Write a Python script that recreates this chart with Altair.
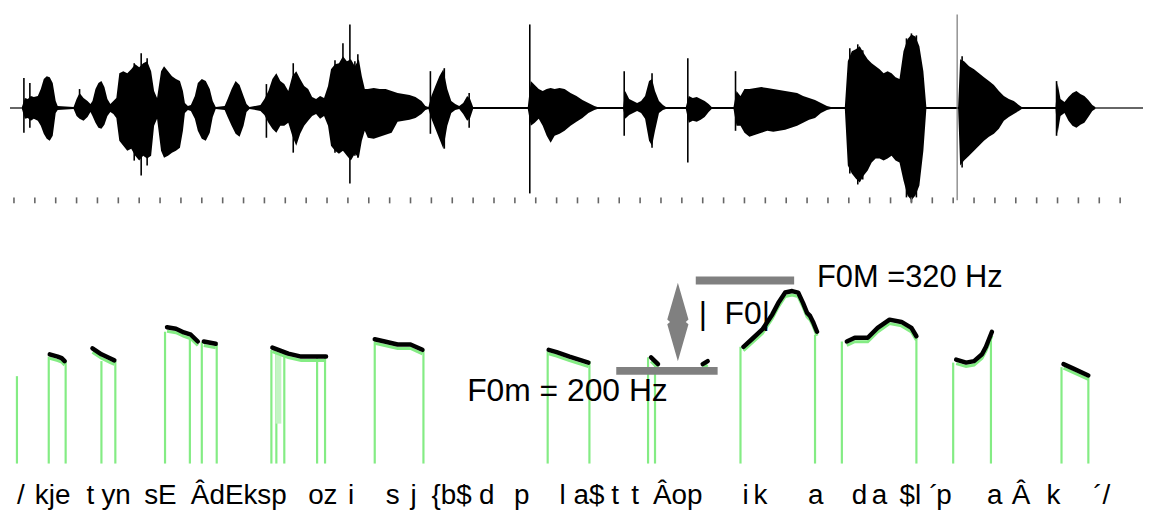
import altair as alt
import pandas as pd

# ---------------- data ----------------
# time axis in frames (1 frame ~ 1 px of the original figure), amplitude in relative units
wave_env = [
    (22, 1, -1), (25, 10, -11), (28, 9, -10), (31, 12, -13), (34, 11, -11), (38, 12, -13), (41, 19, -18),
    (44, 29, -26), (47, 32, -31), (50, 31, -33), (53, 25, -28), (56, 7, -5), (58, 2, -2),
    (74, 1, -1), (77, 9, -8), (80, 15, -11), (84, 10, -13), (88, 7, -9), (91, 4, -4),
    (93, 7, -8), (96, 19, -15), (99, 25, -20), (102, 27, -21), (105, 21, -17), (108, 9, -8), (111, 4, -4),
    (114, 7, -6), (117, 10, -10),
    (120, 35, -33), (124, 37, -38), (128, 35, -43), (132, 39, -41), (136, 44, -48), (140, 41, -53),
    (144, 45, -48), (148, 47, -51), (152, 37, -48), (155, 17, -18), (158, 10, -11),
    (162, 37, -43), (165, 42, -50), (169, 37, -48), (173, 32, -45), (177, 29, -43), (181, 27, -40),
    (184, 17, -23), (186, 5, -5), (189, 2, -2), (192, 3, -3),
    (196, 12, -11), (199, 25, -23), (203, 29, -31), (207, 27, -33), (211, 19, -25), (214, 7, -9), (217, 1, -1),
    (226, 2, -2), (229, 9, -9), (233, 19, -18), (237, 27, -26), (241, 23, -29), (245, 12, -18), (248, 4, -4),
    (251, 1, -1),
    (262, 3, -3), (266, 9, -7), (270, 17, -15), (274, 29, -21), (278, 35, -25), (282, 27, -18), (286, 24, -18),
    (290, 17, -15), (294, 32, -28), (298, 37, -38), (302, 29, -26), (306, 22, -18), (310, 19, -13),
    (314, 11, -8), (318, 9, -6), (322, 12, -11), (326, 10, -8), (330, 22, -18),
    (333, 39, -38), (337, 44, -43), (341, 45, -46), (345, 52, -43), (349, 47, -48), (353, 49, -53),
    (357, 42, -46), (361, 49, -50), (364, 32, -33), (367, 19, -23),
    (370, 19, -30), (376, 20, -31), (382, 19, -29), (388, 19, -27), (394, 17, -25), (400, 15, -14),
    (406, 14, -13), (412, 13, -12), (418, 11, -10), (424, 7, -6), (428, 2, -2), (431, 1, -1),
    (434, 12, -11), (438, 22, -21), (442, 32, -31), (446, 39, -41), (450, 19, -18), (454, 7, -5),
    (458, 4, -2), (462, 2, -1), (466, 5, -6), (470, 12, -13), (473, 9, -10), (476, 1, -1),
    (531, 1, -1), (534, 27, -18), (538, 23, -15), (542, 19, -11), (546, 17, -18), (550, 19, -28),
    (554, 20, -35), (558, 19, -28), (563, 20, -26), (568, 19, -23), (574, 15, -18), (580, 12, -14),
    (586, 8, -10), (592, 5, -5), (598, 2, -2), (601, 1, -1),
    (627, 1, -1), (629, 17, -11), (633, 9, -7), (637, 7, -5), (641, 5, -3), (645, 7, -5), (649, 12, -11),
    (653, 27, -33), (656, 29, -38), (659, 17, -23), (663, 7, -5), (667, 3, -2), (670, 1, -1),
    (690, 1, -1), (693, 12, -15), (697, 10, -13), (701, 11, -14), (705, 9, -12), (709, 7, -9),
    (713, 4, -4), (716, 1, -1),
    (738, 1, -1), (741, 17, -18), (745, 12, -18), (749, 19, -25), (754, 19, -29), (760, 20, -27),
    (766, 21, -25), (772, 20, -23), (778, 19, -24), (784, 18, -23), (790, 17, -22), (796, 16, -20),
    (802, 15, -18), (808, 12, -15), (814, 10, -12), (820, 8, -10), (826, 5, -5), (832, 2, -2), (836, 1, -1),
    (850, 1, -1), (853, 47, -58), (857, 57, -66), (861, 59, -71), (865, 62, -75), (869, 55, -68),
    (873, 49, -63), (877, 45, -55), (881, 42, -51), (885, 39, -51), (889, 35, -53), (893, 37, -51),
    (897, 35, -48), (901, 31, -53), (905, 29, -55), (909, 57, -73), (913, 69, -88), (917, 74, -93),
    (921, 72, -88), (925, 62, -78), (929, 37, -43), (932, 1, -1),
    (964, 1, -1), (966, 49, -58), (970, 47, -53), (975, 42, -48), (980, 39, -43), (985, 35, -38),
    (990, 31, -33), (995, 27, -29), (1000, 23, -26), (1005, 17, -21), (1010, 12, -13), (1015, 9, -9),
    (1020, 7, -6), (1025, 3, -3), (1028, 1, -1),
    (1062, 1, -1), (1064, 25, -26), (1067, 9, -8), (1071, 6, -5), (1075, 11, -13), (1079, 15, -18),
    (1083, 17, -20), (1087, 14, -17), (1091, 12, -15), (1095, 8, -9), (1099, 3, -3), (1102, 1, -1),
]
spike_t = [24, 30, 80, 135, 142, 148, 268, 295, 337, 345, 352, 357, 360, 433, 447, 472, 533, 628, 656,
           692, 740, 855, 863, 868, 912, 917, 922, 968, 1063]
spike_hi = [30, 25, 19, 45, 55, 50, 24, 45, 48, 65, 84, 47, 54, 37, 40, 15, 84, 37, 35,
            50, 37, 60, 64, 58, 70, 75, 73, 52, 27]
spike_lo = [-25, -20, -5, -53, -68, -58, -30, -45, -45, -43, -76, -48, -50, -26, -41, -20, -86, -28, -40,
            -55, -23, -66, -77, -72, -90, -95, -90, -60, -28]
marker_t, marker_hi, marker_lo = 963, 94, -93
baseline_start, baseline_end = 10, 1150
tick_start, tick_step, tick_end = 14, 21, 1144
tick_hi, tick_lo = -90, -96

# voicing markers (green) : time and top frequency in Hz, floor in Hz
voicing_t = [17, 49, 66, 102, 116, 166, 191, 203, 218, 273, 278, 286, 319, 327, 377, 426,
             551, 593, 652, 659, 745, 820, 847, 922, 959, 997, 1068, 1095]
voicing_top = [193, 219, 213, 213, 213, 252, 242, 238, 235, 228, 224, 224, 219, 219, 239, 228,
               226, 213, 218, 209, 232, 248, 239, 242, 211, 244, 205, 195]
voicing_floor = 77
burst_t, burst_lo, burst_hi = 280, 130, 224

# F0 contours (Hz)
f0_segments = [
    [(50, 222), (58, 219), (62, 217), (65, 213)],
    [(93, 230), (102, 222), (110, 217), (115, 214)],
    [(168, 258), (177, 256), (185, 251), (192, 248), (199, 239)],
    [(205, 239), (217, 236)],
    [(274, 231), (282, 227), (290, 223), (303, 219), (317, 219), (328, 219)],
    [(377, 242), (387, 239), (400, 235), (413, 235), (425, 228)],
    [(552, 228), (560, 225), (573, 219), (592, 211)],
    [(655, 218), (662, 209)],
    [(707, 209), (712, 213)],
    [(748, 232), (758, 244), (767, 255), (777, 275), (783, 290), (790, 304), (797, 306), (803, 304),
     (808, 290), (812, 277), (815, 273), (818, 265), (822, 252)],
    [(852, 239), (860, 244), (873, 244), (883, 257), (895, 268), (907, 265), (917, 257), (922, 246)],
    [(962, 215), (972, 211), (980, 213), (988, 222), (992, 232), (998, 252)],
    [(1070, 209), (1080, 203), (1095, 194)],
]
ref_start = [620, 700]
ref_end = [722, 799]
ref_hz = [200, 320]
arrow_t, arrow_hz = 682, 265

annot_t = [470, 822, 703, 729]
annot_hz = [160, 312, 262, 262]
annot_size = [32, 31, 32, 32]
annot_text = ["F0m = 200 Hz", "F0M =320 Hz", "|", "F0|"]

phon_t = [17, 35, 87, 102, 145, 192, 310, 350, 388, 413, 434, 482, 517, 563, 577,
          615, 635, 657, 747, 758, 813, 857, 877, 905, 935, 942, 993, 1018, 1053, 1100]
phon_text = ["/", "kje", "t", "yn", "sE", "ÂdEksp", "oz", "i", "s", "j", "{b$", "d", "p", "l", "a$",
             "t", "t", "Âop", "i", "k", "a", "d", "a", "$l", "´", "p", "a", "Â", "k", "´/"]
phon_hz = 23

# ---------------- chart ----------------
FONT = "Liberation Sans"
GREEN = "#84ec84"
xs = alt.Scale(domain=[8, 1144])
ys_w = alt.Scale(domain=[-105, 99])
ys_p = alt.Scale(domain=[20, 400])
X = lambda f: alt.X(f, type="quantitative", scale=xs, axis=None)
YW = lambda f: alt.Y(f, type="quantitative", scale=ys_w, axis=None)
YP = lambda f: alt.Y(f, type="quantitative", scale=ys_p, axis=None)

env_df = pd.DataFrame(wave_env, columns=["t", "hi", "lo"])
spk_df = pd.DataFrame({"t": spike_t, "hi": spike_hi, "lo": spike_lo})
mk_df = pd.DataFrame({"t": [marker_t], "hi": [marker_hi], "lo": [marker_lo]})
base_df = pd.DataFrame({"t": [baseline_start], "t2": [baseline_end], "a": [0]})
tick_df = pd.DataFrame({"t": list(range(tick_start, tick_end, tick_step))})
tick_df["hi"] = tick_hi
tick_df["lo"] = tick_lo

baseline = alt.Chart(base_df).mark_rule(color="#333333", strokeWidth=1.5).encode(
    x=X("t"), x2="t2", y=YW("a"))
area = alt.Chart(env_df).mark_area(color="black", interpolate="linear").encode(
    x=X("t"), y=YW("hi"), y2="lo")
spikes = alt.Chart(spk_df).mark_rule(color="black", strokeWidth=1.6).encode(
    x=X("t"), y=YW("hi"), y2="lo")
marker = alt.Chart(mk_df).mark_rule(color="#777777", strokeWidth=1.2).encode(
    x=X("t"), y=YW("hi"), y2="lo")
ticks = alt.Chart(tick_df).mark_rule(color="#666666", strokeWidth=1.6).encode(
    x=X("t"), y=YW("hi"), y2="lo")

top = alt.layer(baseline, area, spikes, marker, ticks).properties(width=1136, height=204)

voi_df = pd.DataFrame({"t": voicing_t, "top": voicing_top})
voi_df["floor"] = voicing_floor
burst_df = pd.DataFrame({"t": [burst_t], "lo": [burst_lo], "hi": [burst_hi]})
rows = []
for i, seg in enumerate(f0_segments):
    for t, hz in seg:
        rows.append({"seg": i, "t": t, "hz": hz})
f0_df = pd.DataFrame(rows)
ref_df = pd.DataFrame({"t": ref_start, "t2": ref_end, "hz": ref_hz})
arrow_df = pd.DataFrame({"t": [arrow_t], "hz": [arrow_hz]})
annot_df = pd.DataFrame({"t": annot_t, "hz": annot_hz, "label": annot_text, "size": annot_size})
phon_df = pd.DataFrame({"t": phon_t, "label": phon_text})
phon_df["hz"] = phon_hz

voicing = alt.Chart(voi_df).mark_rule(color=GREEN, strokeWidth=2.2).encode(
    x=X("t"), y=YP("floor"), y2="top")
burst = alt.Chart(burst_df).mark_rule(color="#c4f4c4", strokeWidth=6).encode(
    x=X("t"), y=YP("lo"), y2="hi")
shadow = alt.Chart(f0_df).mark_line(color=GREEN, strokeWidth=3, yOffset=4).encode(
    x=X("t"), y=YP("hz"), detail="seg:N")
f0 = alt.Chart(f0_df).mark_line(color="black", strokeWidth=4.5, strokeCap="round",
                                strokeJoin="round").encode(
    x=X("t"), y=YP("hz"), detail="seg:N")
refs = alt.Chart(ref_df).mark_rule(color="#808080", strokeWidth=8).encode(
    x=X("t"), x2="t2", y=YP("hz"))
arrow_path = "M0,-1L0.27,-0.06L0.2,0L0.27,0.06L0,1L-0.27,0.06L-0.2,0L-0.27,-0.06Z"
arrow = alt.Chart(arrow_df).mark_point(shape=arrow_path, size=6241, filled=True,
                                       color="#808080", opacity=1, strokeWidth=0).encode(
    x=X("t"), y=YP("hz"))
annots = alt.Chart(annot_df).mark_text(align="left", baseline="alphabetic", font=FONT,
                                       color="black").encode(
    x=X("t"), y=YP("hz"), text="label:N",
    size=alt.Size("size:Q", scale=None, legend=None))
phon = alt.Chart(phon_df).mark_text(align="left", baseline="alphabetic", font=FONT,
                                    fontSize=28, color="black").encode(
    x=X("t"), y=YP("hz"), text="label:N")

bottom = alt.layer(voicing, burst, shadow, f0, refs, arrow, annots, phon).properties(
    width=1136, height=288)

chart = alt.vconcat(top, bottom, spacing=8).properties(padding=0).configure_view(stroke=None)
chart.save("out.html", embed_options={"renderer": "svg", "actions": False})
